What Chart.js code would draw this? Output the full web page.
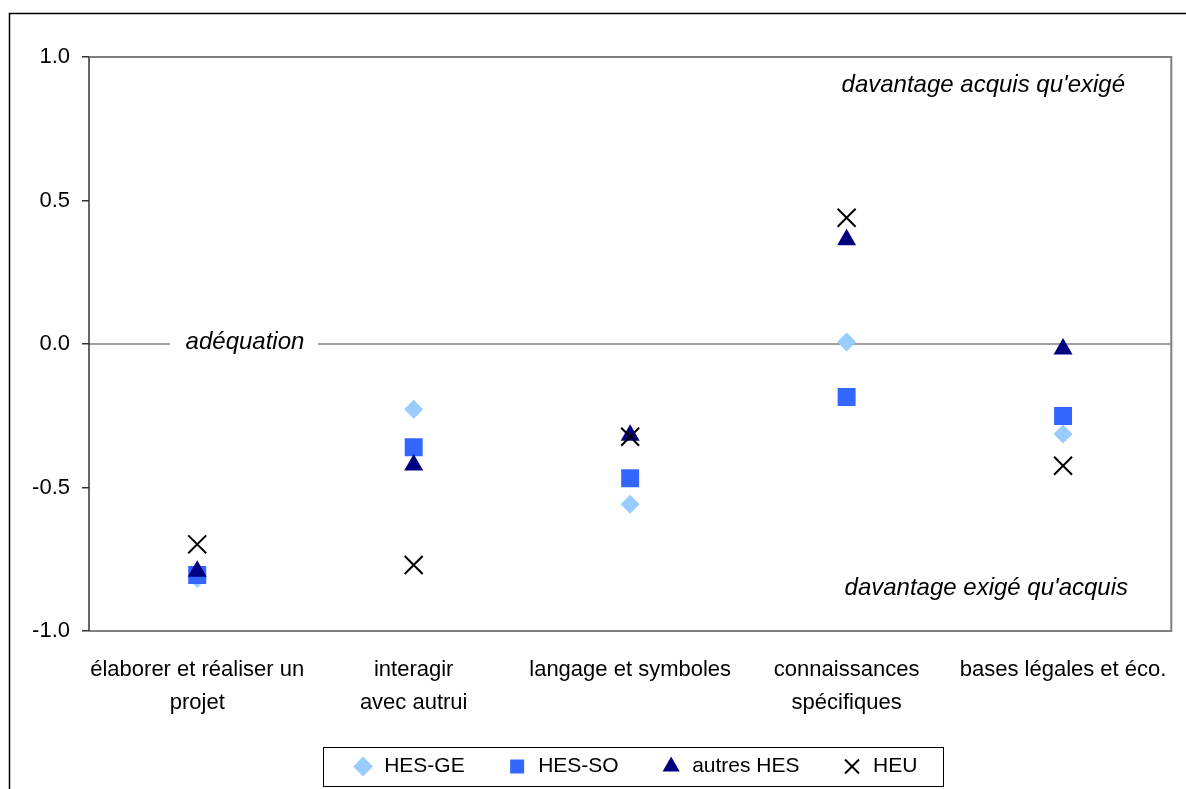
<!DOCTYPE html>
<html>
<head>
<meta charset="utf-8">
<script src="https://cdn.jsdelivr.net/npm/chart.js@4"></script>
<style>
  html, body { margin: 0; padding: 0; background: #fff; overflow: hidden; }
  #wrap { width: 1186px; height: 789px; position: relative; }
  canvas { display: block; }
</style>
</head>
<body>
<div id="wrap"><canvas id="chart"></canvas></div>
<script>
// Adéquation compétences acquises / exigées
const categories = [
  ['élaborer et réaliser un', 'projet'],
  ['interagir', 'avec autrui'],
  'langage et symboles',
  ['connaissances', 'spécifiques'],
  'bases légales et éco.'
];
const hesGe = [-0.817, -0.227, -0.558, 0.007, -0.314];
const hesSo = [-0.805, -0.36, -0.468, -0.185, -0.251];
const autresHes = [-0.792, -0.422, -0.318, 0.363, -0.017];
const heu = [-0.698, -0.77, -0.323, 0.44, -0.424];
const yTicks = [-1, -0.5, 0, 0.5, 1];

const FONT = '"Liberation Sans", Arial, sans-serif';
Chart.defaults.font.family = FONT;
Chart.defaults.color = '#000';

const LEGEND_SHIFT = 46;

const framePlugin = {
  id: 'frame',
  afterLayout(chart) {
    // légende centrée sur la zone de tracé, pas sur tout le canvas
    const lg = chart.legend;
    lg.left += LEGEND_SHIFT;
    lg.right += LEGEND_SHIFT;
    lg.legendHitBoxes.forEach(b => { b.left += LEGEND_SHIFT; });
  },
  beforeDatasetsDraw(chart) {
    const { ctx, chartArea: a, scales: { y } } = chart;
    const y0 = y.getPixelForValue(0);
    ctx.save();
    // ligne zéro, interrompue sous le libellé
    ctx.strokeStyle = '#808080';
    ctx.lineWidth = 1.5;
    ctx.beginPath();
    ctx.moveTo(a.left, y0);
    ctx.lineTo(a.right, y0);
    ctx.stroke();
    ctx.font = 'italic 24px ' + FONT;
    ctx.textAlign = 'center';
    ctx.textBaseline = 'middle';
    ctx.fillStyle = '#fff';
    ctx.fillRect(170, y0 - 3, 148, 6);
    ctx.fillStyle = '#000';
    ctx.fillText('adéquation', 245, y0 - 2);
    ctx.textAlign = 'right';
    ctx.fillText("davantage acquis qu'exigé", 1125, y.getPixelForValue(0.9));
    ctx.fillText("davantage exigé qu'acquis", 1128, y.getPixelForValue(-0.85));
    ctx.restore();
  },
  afterDraw(chart) {
    const { ctx, chartArea: a, legend } = chart;
    ctx.save();
    ctx.strokeStyle = '#808080';
    ctx.lineWidth = 2;
    ctx.beginPath();
    ctx.moveTo(a.left, a.top);
    ctx.lineTo(a.right, a.top);
    ctx.lineTo(a.right, a.bottom);
    ctx.lineTo(a.left, a.bottom);
    ctx.stroke();
    ctx.strokeStyle = '#333';
    ctx.lineWidth = 1.5;
    ctx.beginPath();
    ctx.moveTo(a.left, a.top);
    ctx.lineTo(a.left, a.bottom);
    ctx.stroke();
    // cadre extérieur
    ctx.strokeStyle = '#000';
    ctx.lineWidth = 1.5;
    ctx.strokeRect(9.5, 13.5, 1300, 900);
    // cadre de la légende
    const boxes = legend.legendHitBoxes;
    if (boxes.length) {
      const l = Math.min(...boxes.map(b => b.left)) - 30;
      const r = Math.max(...boxes.map(b => b.left + b.width)) + 25;
      const t = Math.min(...boxes.map(b => b.top)) - 9;
      const bt = Math.max(...boxes.map(b => b.top + b.height)) + 9;
      ctx.strokeStyle = '#000';
      ctx.lineWidth = 1;
      ctx.strokeRect(Math.round(l) + 0.5, Math.round(t) + 0.5, Math.round(r - l), Math.round(bt - t));
    }
    ctx.restore();
  }
};

function series(label, data, style, color, radius, order) {
  return {
    label, data, order,
    showLine: false,
    pointStyle: style,
    pointRadius: radius,
    pointHoverRadius: radius,
    backgroundColor: color,
    borderColor: color,
    pointBorderWidth: style === 'crossRot' ? 2 : 0,
  };
}

new Chart(document.getElementById('chart'), {
  type: 'line',
  data: {
    labels: categories,
    datasets: [
      series('HES-GE', hesGe, 'rectRot', '#99ccff', 9.5, 3),
      series('HES-SO', hesSo, 'rect', '#3366ff', 12.7, 2),
      series('autres HES', autresHes, 'triangle', '#000080', 11, 1),
      series('HEU', heu, 'crossRot', '#000000', 12.7, 0)
    ]
  },
  options: {
    responsive: true,
    maintainAspectRatio: false,
    animation: false,
    layout: { padding: { left: 0, top: 57, right: 8, bottom: 2 } },
    plugins: {
      tooltip: { enabled: false },
      legend: {
        position: 'bottom',
        labels: {
          usePointStyle: true,
          boxHeight: 14,
          padding: 42,
          font: { size: 21 },
          color: '#000',
          sort: (a, b) => a.datasetIndex - b.datasetIndex
        }
      }
    },
    scales: {
      x: {
        type: 'category',
        offset: true,
        grid: { display: false },
        border: { display: false },
        ticks: { font: { size: 22, lineHeight: 1.5 }, padding: 14, maxRotation: 0, autoSkip: false },
        afterFit(s) { s.height = 83; s.paddingLeft = 0; s.paddingRight = 0; }
      },
      y: {
        min: -1,
        max: 1,
        afterBuildTicks(s) { s.ticks = yTicks.map(v => ({ value: v })); },
        ticks: { font: { size: 22 }, padding: 12, callback: v => Number(v).toFixed(1) },
        grid: { drawOnChartArea: false, color: '#333', tickLength: 7, lineWidth: 1.5 },
        border: { display: false },
        afterFit(s) { s.width = 89; }
      }
    }
  },
  plugins: [framePlugin]
});
</script>
</body>
</html>
